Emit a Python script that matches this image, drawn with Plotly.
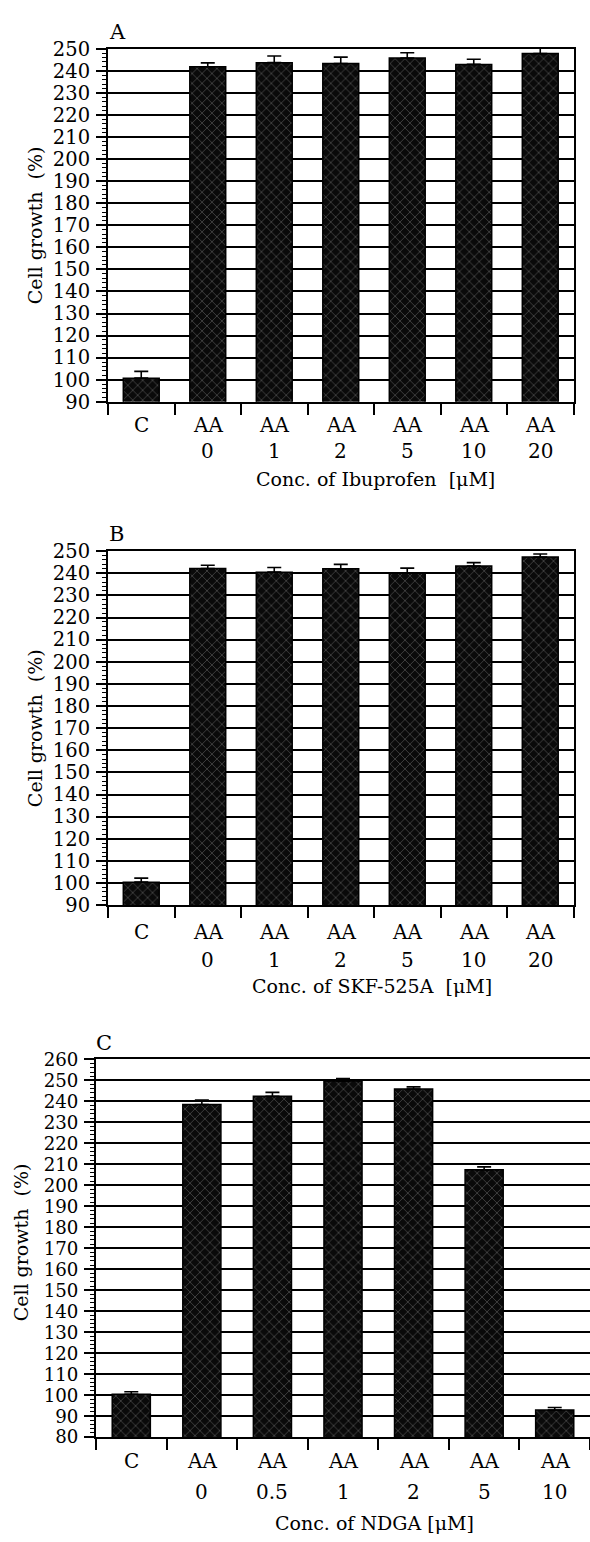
import plotly.graph_objects as go

W, H = 590, 1542
FONT = "DejaVu Serif"

# ---------------- data ----------------
groups_A = ["C", "AA", "AA", "AA", "AA", "AA", "AA"]
conc_A = ["", "0", "1", "2", "5", "10", "20"]
growth_A = [100.7, 241.8, 243.7, 243.3, 245.8, 242.9, 247.8]
err_A = [3.1, 1.8, 3.0, 2.9, 2.4, 2.3, 2.7]

groups_B = ["C", "AA", "AA", "AA", "AA", "AA", "AA"]
conc_B = ["", "0", "1", "2", "5", "10", "20"]
growth_B = [100.4, 242.1, 240.5, 242.0, 240.0, 243.3, 247.3]
err_B = [1.8, 1.5, 2.1, 2.0, 2.3, 1.5, 1.4]

groups_C = ["C", "AA", "AA", "AA", "AA", "AA", "AA"]
conc_C = ["", "0", "0.5", "1", "2", "5", "10"]
growth_C = [100.4, 238.5, 242.4, 249.7, 245.9, 207.4, 92.9]
err_C = [1.2, 2.1, 1.9, 1.2, 1.0, 1.4, 1.2]

panel_letters = ["A", "B", "C"]
x_titles = ["Conc. of Ibuprofen  [\u03bcM]", "Conc. of SKF-525A  [\u03bcM]", "Conc. of NDGA [\u03bcM]"]
y_title = "Cell growth  (%)"
y_ranges = [(90, 250), (90, 250), (80, 260)]

# ---------------- layout geometry (pixels) ----------------
panels = [
    dict(x0=108, x1=573.5, top=38.3, bot=396.7, row1=420, row2=446.7, title=475,
         letter=(107, 21), ytitle=(35, 217.5), xtitle_x=375, mirror_right=True, tfs=19.5),
    dict(x0=108, x1=573.5, top=548.3, bot=907.7, row1=935, row2=963.3, title=990,
         letter=(107, 531), ytitle=(35, 728), xtitle_x=372, mirror_right=True, tfs=19.5),
    dict(x0=96, x1=590, top=1064.3, bot=1447.7, row1=1472, row2=1503.3, title=1535,
         letter=(94, 1048), ytitle=(21, 1250), xtitle_x=374, mirror_right=False, tfs=18.2),
]

data = [
    (groups_A, conc_A, growth_A, err_A),
    (groups_B, conc_B, growth_B, err_B),
    (groups_C, conc_C, growth_C, err_C),
]


def py(px):
    return 1 - px / H


def pxx(px):
    return px / W


fig = go.Figure()
annotations = []

for i, (p, (groups, conc, growth, err)) in enumerate(zip(panels, data)):
    n = i + 1
    xa = "x" if n == 1 else f"x{n}"
    ya = "y" if n == 1 else f"y{n}"
    cats = [(g + " " + c).strip() for g, c in zip(groups, conc)]

    fig.add_trace(go.Bar(
        x=cats, y=growth, xaxis=xa, yaxis=ya, width=0.54,
        marker=dict(
            color="#0a0a0a",
            line=dict(color="black", width=1.5),
            pattern=dict(shape="x", size=7, solidity=0.14,
                         fgcolor="#6e6e6e", bgcolor="#0a0a0a", fillmode="replace"),
        ),
        error_y=dict(type="data", array=err, arrayminus=[0] * len(err), symmetric=False,
                     color="black", thickness=1.6, width=7),
        showlegend=False,
    ))

    lo, hi = y_ranges[i]
    axis_x = dict(
        domain=[pxx(p["x0"]), min(1.0, pxx(p["x1"]))],
        anchor=ya, type="category", categoryorder="array", categoryarray=cats,
        range=[-0.5, len(cats) - 0.5],
        showline=True, linecolor="black", linewidth=2, mirror=True,
        ticks="outside", tickson="boundaries", ticklen=11, tickwidth=1.5, tickcolor="black",
        showticklabels=False, showgrid=False, zeroline=False, fixedrange=True,
    )
    axis_y = dict(
        domain=[py(p["bot"]), py(p["top"])],
        anchor=xa, range=[lo, hi],
        tickmode="array", tickvals=list(range(lo, hi + 1, 10)),
        ticktext=[str(v) for v in range(lo, hi + 1, 10)],
        ticks="outside", ticklen=10, tickwidth=1.5, tickcolor="black",
        minor=dict(ticks="outside", ticklen=4, tickwidth=1, tickcolor="black",
                   dtick=2, tick0=0, showgrid=False),
        tickfont=dict(family=FONT, size=p["tfs"], color="black"),
        ticklabelstandoff=2,
        showline=True, linecolor="black", linewidth=2, mirror=p["mirror_right"],
        showgrid=True, gridcolor="#000000", gridwidth=1.8, zeroline=False, fixedrange=True,
    )
    fig.update_layout(**{("xaxis" if n == 1 else f"xaxis{n}"): axis_x,
                         ("yaxis" if n == 1 else f"yaxis{n}"): axis_y})

    # category labels (two rows) placed on the category axis
    for cat, g, c in zip(cats, groups, conc):
        annotations.append(dict(x=cat, xref=xa, y=py(p["row1"]), yref="paper",
                                text=g, showarrow=False, xanchor="center", yanchor="middle",
                                font=dict(family=FONT, size=20, color="black")))
        if c:
            annotations.append(dict(x=cat, xref=xa, y=py(p["row2"]), yref="paper",
                                    text=c, showarrow=False, xanchor="center", yanchor="middle",
                                    font=dict(family=FONT, size=20, color="black")))
    # x title
    annotations.append(dict(x=pxx(p["xtitle_x"]), xref="paper", y=py(p["title"]), yref="paper",
                            text=x_titles[i], showarrow=False, xanchor="center", yanchor="middle",
                            font=dict(family=FONT, size=19, color="black")))
    # y title
    annotations.append(dict(x=pxx(p["ytitle"][0]), xref="paper", y=py(p["ytitle"][1]), yref="paper",
                            text=y_title, showarrow=False, textangle=-90,
                            xanchor="center", yanchor="middle",
                            font=dict(family=FONT, size=19, color="black")))
    # panel letter
    annotations.append(dict(x=pxx(p["letter"][0]), xref="paper", y=py(p["letter"][1]), yref="paper",
                            text=panel_letters[i], showarrow=False, xanchor="left", yanchor="middle",
                            font=dict(family=FONT, size=21, color="black")))

fig.update_layout(
    width=W, height=H,
    margin=dict(l=0, r=0, t=0, b=0),
    paper_bgcolor="white", plot_bgcolor="white",
    bargap=0.46,
    annotations=annotations,
    font=dict(family=FONT, color="black"),
)

fig.write_html("out.html")
